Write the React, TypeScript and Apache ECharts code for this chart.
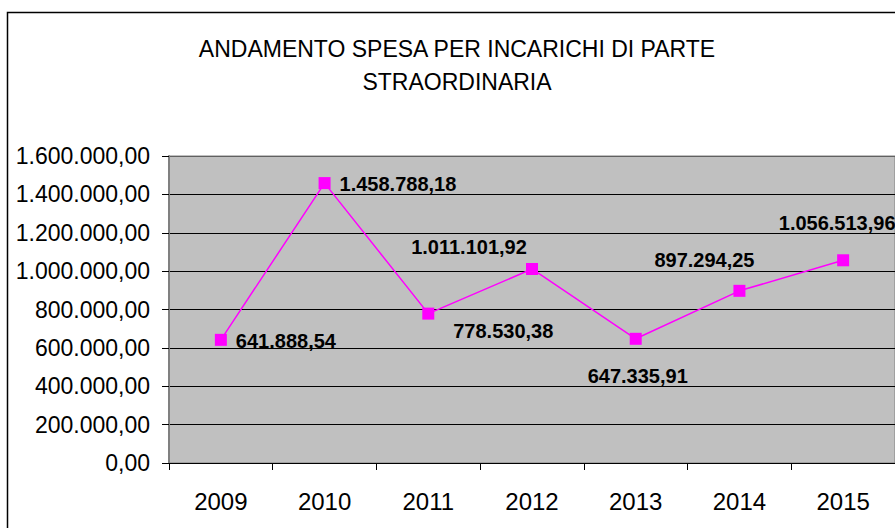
import React, { useEffect, useRef } from "react";
import * as echarts from "echarts";

const TITLE = "ANDAMENTO SPESA PER INCARICHI DI PARTE\nSTRAORDINARIA";
const YEARS = ["2009", "2010", "2011", "2012", "2013", "2014", "2015"];
const SPESA = [641888.54, 1458788.18, 778530.38, 1011101.92, 647335.91, 897294.25, 1056513.96];
// label placement for each point: [align, dx, dy]
const LABEL_ALIGN = ["left", "left", "center", "center", "center", "center", "center"];
const LABEL_DX = [15, 15, 75, -63, 2, -35, -6];
const LABEL_DY = [1.5, 0.5, 17, -21.5, 37, -30.5, -37.5];

const FONT = "'Liberation Sans', Arial, sans-serif";

function fmtIt(v: number): string {
  const [i, d] = Math.abs(v).toFixed(2).split(".");
  const withDots = i.replace(/\B(?=(\d{3})+(?!\d))/g, ".");
  return (v < 0 ? "-" : "") + withDots + "," + d;
}

export default function App() {
  const ref = useRef<HTMLDivElement>(null);
  useEffect(() => {
    if (!ref.current) return;
    const chart = echarts.init(ref.current, undefined, { renderer: "svg" });
    const data = SPESA.map((v, i) => ({
      value: v,
      label: {
        show: true,
        position: "inside",
        align: LABEL_ALIGN[i],
        verticalAlign: "middle",
        offset: [LABEL_DX[i], LABEL_DY[i]],
        formatter: (p: any) => fmtIt(p.value),
        fontFamily: FONT,
        fontSize: 20,
        fontWeight: "bold",
        color: "#000",
      },
    }));
    chart.setOption({
      animation: false,
      backgroundColor: "#ffffff",
      title: {
        text: TITLE,
        left: 457,
        top: 32,
        textAlign: "center",
        padding: 0,
        textStyle: {
          fontFamily: FONT,
          fontSize: 23,
          fontWeight: "normal",
          color: "#000",
          lineHeight: 33,
        },
      },
      graphic: [
        {
          type: "rect",
          shape: { x: 7.5, y: 12.5, width: 900, height: 530 },
          style: { fill: "none", stroke: "#000", lineWidth: 1.5 },
          z: -1,
          silent: true,
        },
      ],
      grid: {
        left: 169,
        top: 156,
        width: 727,
        height: 307,
        show: true,
        backgroundColor: "#c0c0c0",
        borderColor: "#808080",
        borderWidth: 1,
      },
      xAxis: {
        type: "category",
        data: YEARS,
        boundaryGap: true,
        axisLine: { show: true, lineStyle: { color: "#000", width: 1 } },
        axisTick: { show: true, interval: 0, length: 7, lineStyle: { color: "#000" } },
        axisLabel: {
          interval: 0,
          margin: 26,
          fontFamily: FONT,
          fontSize: 24,
          color: "#000",
        },
        splitLine: { show: false },
      },
      yAxis: {
        type: "value",
        min: 0,
        max: 1600000,
        interval: 200000,
        axisLine: { show: true, lineStyle: { color: "#808080", width: 2 } },
        axisTick: { show: true, length: 7, lineStyle: { color: "#000" } },
        axisLabel: {
          margin: 19,
          fontFamily: FONT,
          fontSize: 23,
          color: "#000",
          formatter: (v: number) => fmtIt(v),
        },
        splitLine: {
          show: true,
          lineStyle: {
            color: ["#000", "#000", "#000", "#000", "#000", "#000", "#000", "#000", "#606060"],
            width: 1,
          },
        },
      },
      series: [
        {
          type: "line",
          data,
          symbol: "rect",
          symbolSize: 12,
          itemStyle: { color: "#ff00ff" },
          lineStyle: { color: "#ff00ff", width: 1.5 },
          z: 3,
        },
      ],
    });
    return () => chart.dispose();
  }, []);
  return (
    <div
      ref={ref}
      style={{ position: "absolute", left: 0, top: 0, width: 895, height: 528 }}
    />
  );
}
